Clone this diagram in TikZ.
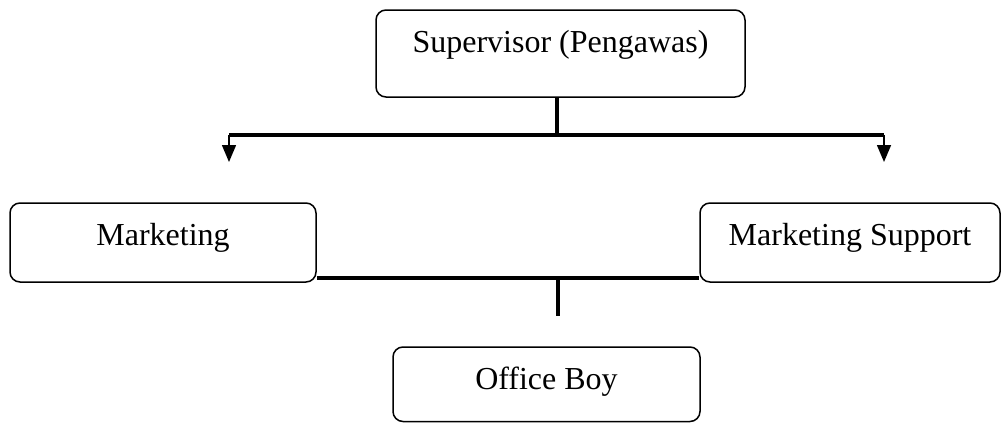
\documentclass[tikz,border=0pt]{standalone}
\usepackage{fontspec}
\setmainfont{Liberation Serif}
\usetikzlibrary{arrows.meta}
\begin{document}
\begin{tikzpicture}[x=1pt,y=-1pt,
  box/.style={draw,line width=1.5pt,rounded corners=10pt,inner sep=0pt},
  lbl/.style={anchor=base,inner sep=0pt,font=\fontsize{32}{38}\selectfont},
  conn/.style={line width=3.5pt},
  arr/.style={line width=1.5pt,-{Triangle[width=14pt,length=17pt]}}]
\useasboundingbox (0,0) rectangle (1001,423);
% boxes
\node[box,minimum width=369pt,minimum height=87pt] (sup) at (560.5,53.5) {};
\node[box,minimum width=306pt,minimum height=79pt] (mk) at (163,242.5) {};
\node[box,minimum width=300pt,minimum height=79pt] (ms) at (850,242.5) {};
\node[box,minimum width=307pt,minimum height=74.5pt] (ob) at (546.5,384.25) {};
% labels
\node[lbl] (tsup) at ([yshift=-43pt]sup.north) {Supervisor (Pengawas)};
\node[lbl] (tmk) at ([yshift=-43pt]mk.north) {Marketing};
\node[lbl] (tms) at ([yshift=-43pt]ms.north) {Marketing Support};
\node[lbl] (tob) at ([yshift=-43pt]ob.north) {Office Boy};
% upper connector
\coordinate (j1) at (557,135);
\coordinate (lt) at (229,135);
\coordinate (rt) at (884,135);
\coordinate (ltip) at (229,162);
\coordinate (rtip) at (884,162);
\draw[conn] (j1 |- sup.south) -- (j1);
\draw[conn] (lt) -- (rt);
\draw[arr] (lt) -- (ltip);
\draw[arr] (rt) -- (rtip);
% lower connector
\draw[conn] ([yshift=5pt]mk.south east) -- ([yshift=5pt]ms.south west);
\coordinate (j2) at (558,277);
\coordinate (j2end) at (558,316);
\draw[conn] (j2) -- (j2end);
\end{tikzpicture}
\end{document}
